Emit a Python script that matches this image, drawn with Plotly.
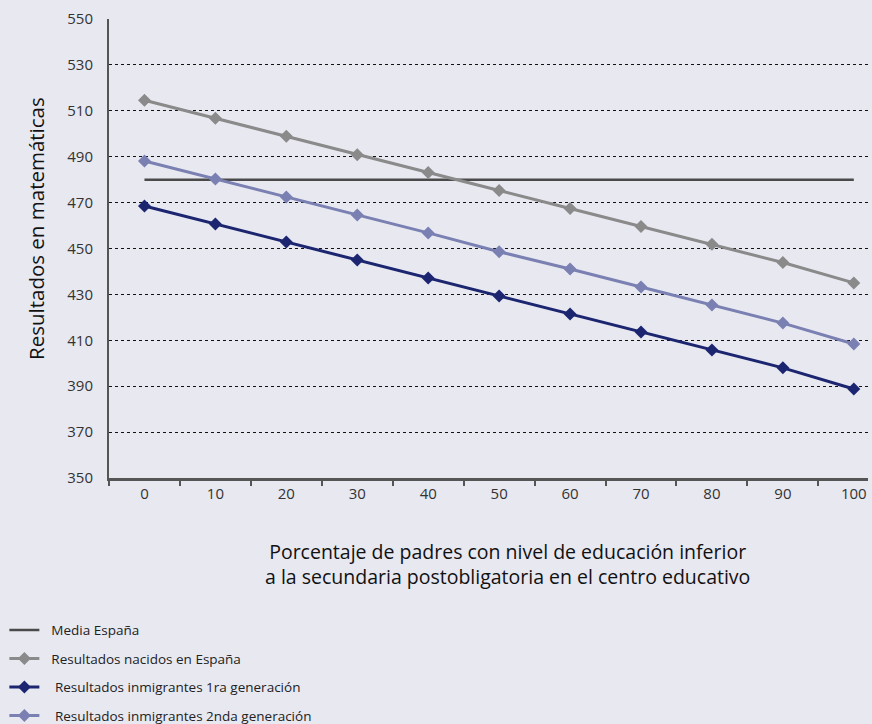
import plotly.graph_objects as go

# Share of parents with education below upper-secondary in the school (%)
categorias = ["0", "10", "20", "30", "40", "50", "60", "70", "80", "90", "100"]

media_espana = [480] * 11
nacidos_espana = [514.6, 506.8, 498.9, 490.9, 483.1, 475.3, 467.4, 459.6, 451.8, 443.9, 435.0]
inmigrantes_1ra = [468.5, 460.7, 452.8, 445.0, 437.1, 429.3, 421.5, 413.6, 405.8, 398.0, 388.8]
inmigrantes_2nda = [488.1, 480.3, 472.4, 464.6, 456.8, 448.6, 441.1, 433.2, 425.4, 417.5, 408.4]

y_ticks = [350, 370, 390, 410, 430, 450, 470, 490, 510, 530, 550]

titulo_x = ["Porcentaje de padres con nivel de educación inferior",
            "a la secundaria postobligatoria en el centro educativo"]

BG = "#E8E8F1"
FONT = "Open Sans, Noto Sans, sans-serif"
NB = "\u00a0\u00a0"

fig = go.Figure()

fig.add_trace(go.Scatter(
    x=categorias, y=media_espana, name=NB + "Media España", mode="lines",
    line=dict(color="#4A4A4A", width=2.5), legendgroup="a"))
fig.add_trace(go.Scatter(
    x=categorias, y=nacidos_espana, name=NB + "Resultados nacidos en España",
    mode="lines+markers", line=dict(color="#8A8A8A", width=3),
    marker=dict(symbol="diamond", size=10, color="#8A8A8A"), legendgroup="b"))
fig.add_trace(go.Scatter(
    x=categorias, y=inmigrantes_1ra, name=NB + "\u00a0Resultados inmigrantes 1ra generación",
    mode="lines+markers", line=dict(color="#1C2670", width=3),
    marker=dict(symbol="diamond", size=10, color="#1C2670"), legendgroup="c"))
fig.add_trace(go.Scatter(
    x=categorias, y=inmigrantes_2nda, name=NB + "\u00a0Resultados inmigrantes 2nda generación",
    mode="lines+markers", line=dict(color="#7A80B2", width=3),
    marker=dict(symbol="diamond", size=10, color="#7A80B2"), legendgroup="d"))

annotations = [
    dict(text="<br>".join(titulo_x), xref="paper", yref="paper",
         x=0.525, y=-(564 - 478) / 459,
         xanchor="center", yanchor="middle", showarrow=False,
         font=dict(size=19.5, color="#111111")),
    dict(text="Resultados en matemáticas", textangle=-90,
         xref="paper", yref="paper", x=-(109 - 36) / 759, y=(478 - 229) / 459,
         xanchor="center", yanchor="middle", showarrow=False,
         font=dict(size=20.5, color="#111111")),
]

fig.update_layout(
    width=872, height=724,
    paper_bgcolor=BG, plot_bgcolor=BG,
    font=dict(family=FONT, color="#333333"),
    margin=dict(l=109, r=4, t=19, b=246, autoexpand=False),
    xaxis=dict(
        type="category", range=[-0.5, 10.2],
        tickson="boundaries", ticks="outside", ticklen=5, tickwidth=2, tickcolor="#555555",
        showline=True, linecolor="#555555", linewidth=2.5,
        showgrid=False, tickfont=dict(size=15, color="#333333")),
    yaxis=dict(
        range=[350, 550], tickvals=y_ticks, showline=True, linecolor="#555555", linewidth=2,
        showgrid=True, gridcolor="#111111", gridwidth=1, griddash="dot",
        zeroline=False, ticks="", ticklabelstandoff=11,
        tickfont=dict(size=15, color="#333333")),
    showlegend=True,
    legend=dict(
        xref="container", yref="container", x=0.005, y=0.151,
        xanchor="left", yanchor="top", bgcolor="rgba(0,0,0,0)",
        font=dict(size=13.5, color="#222222"), tracegroupgap=8,
        traceorder="grouped", itemwidth=30),
    annotations=annotations,
)

fig.write_html("out.html")
